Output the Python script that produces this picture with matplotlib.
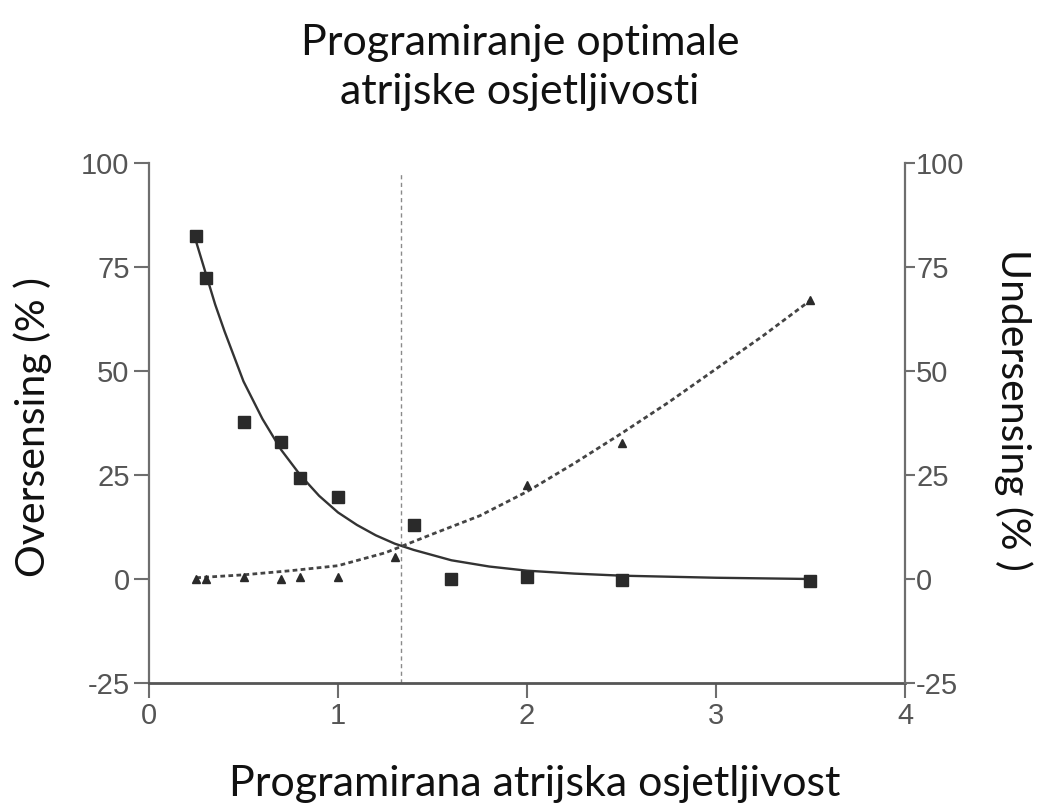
import numpy as np
from matplotlib import pyplot as plt

# measured points
sensitivity_over = [0.25, 0.3, 0.5, 0.7, 0.8, 1.0, 1.4, 1.6, 2.0, 2.5, 3.5]
oversensing = [82.4, 72.3, 37.8, 32.9, 24.2, 19.6, 13.0, 0.0, 0.6, -0.2, -0.6]

sensitivity_under = [0.25, 0.3, 0.5, 0.7, 0.8, 1.0, 1.3, 2.0, 2.5, 3.5]
undersensing = [0.0, 0.0, 0.5, 0.0, 0.5, 0.5, 5.2, 22.6, 32.6, 67.0]

# fitted curves
fit_over_x = [0.25, 0.3, 0.35, 0.4, 0.5, 0.6, 0.7, 0.8, 0.9, 1.0, 1.1, 1.2, 1.3,
              1.4, 1.6, 1.8, 2.0, 2.25, 2.5, 3.0, 3.5]
fit_over_y = [81.0, 73.5, 66.0, 59.5, 47.5, 38.5, 31.0, 25.0, 20.0, 16.0, 13.0, 10.5, 8.5,
              7.0, 4.5, 3.0, 2.0, 1.3, 0.8, 0.3, 0.0]

fit_under_x = [0.25, 0.5, 0.75, 1.0, 1.25, 1.5, 1.75, 2.0, 2.25, 2.5, 2.75, 3.0, 3.25, 3.5]
fit_under_y = [0.3, 1.0, 2.0, 3.2, 6.3, 10.8, 15.2, 21.0, 27.8, 35.0, 42.5, 50.5, 58.5, 67.0]

optimum = 1.335

title_lines = ['Programiranje optimale', 'atrijske osjetljivosti']
xlabel = 'Programirana atrijska osjetljivost'
ylabel_left = 'Oversensing (% )'
ylabel_right = 'Undersensing (% )'

spineColor = '#6e6e6e'
tickColor = '#555555'
markColor = '#2a2a2a'
textColor = '#111111'
labelFont = ['Lato', 'DejaVu Sans']
tickFont = ['Liberation Sans', 'DejaVu Sans']
labelSize = 31
sideLabelSize = 29.5

plt.rcParams['axes.unicode_minus'] = False

W, H = 1038, 808
fig = plt.figure(figsize=(W / 100, H / 100), dpi=100)
ax = fig.add_axes([149 / W, 1 - 683 / H, (905 - 149) / W, (683 - 163) / H])

ax.plot(fit_over_x, fit_over_y, color='#333333', linewidth=1.7, zorder=3)
ax.plot(fit_under_x, fit_under_y, color='#444444', linewidth=2.0,
        linestyle=(0, (1.7, 1.2)), zorder=3)
ax.plot(sensitivity_over, oversensing, linestyle='none', marker='s', markersize=8,
        color=markColor, zorder=4)
ax.plot(sensitivity_under, undersensing, linestyle='none', marker='^', markersize=6,
        color=markColor, zorder=4)
ax.axvline(optimum, ymax=(97.5 + 25) / 125, color='#8a8a8a', linewidth=1.0,
           linestyle=(0, (3, 2.5)), zorder=2)

ax.set_xlim(0, 4)
ax.set_ylim(-25, 100)
ax.set_xticks([0, 1, 2, 3, 4])
ax.set_yticks([-25, 0, 25, 50, 75, 100])
ax.spines['top'].set_visible(False)
ax.spines['right'].set_visible(False)
ax.spines['left'].set_color(spineColor)
ax.spines['left'].set_linewidth(1.6)
ax.spines['bottom'].set_color('#555555')
ax.spines['bottom'].set_linewidth(2.0)
ax.tick_params(axis='both', direction='out', length=11, width=1.5, colors=spineColor,
               labelcolor=tickColor, labelsize=21, pad=3)
for lbl in ax.get_xticklabels() + ax.get_yticklabels():
    lbl.set_family(tickFont)

ax2 = ax.twinx()
ax2.set_ylim(-25, 100)
ax2.set_yticks([-25, 0, 25, 50, 75, 100])
for side in ['top', 'left', 'bottom']:
    ax2.spines[side].set_visible(False)
ax2.spines['right'].set_color(spineColor)
ax2.spines['right'].set_linewidth(1.6)
ax2.tick_params(axis='y', direction='out', length=7, width=1.5, colors=spineColor,
                labelcolor=tickColor, labelsize=21, pad=1)
for lbl in ax2.get_yticklabels():
    lbl.set_family(tickFont)

# axis titles
ax.set_xlabel(xlabel, fontsize=labelSize, family=labelFont, color=textColor)
ax.xaxis.label.set_va('baseline')
ax.xaxis.set_label_coords((535 - 149) / 756, (683 - 796) / 520)

ax.set_ylabel(ylabel_left, fontsize=sideLabelSize, family=labelFont, color=textColor)
ax.yaxis.set_label_coords((52 - 149) / 756, (683 - 427) / 520)

ax2.set_ylabel(ylabel_right, fontsize=sideLabelSize, family=labelFont, color=textColor,
               rotation=270)
ax2.yaxis.label.set_va('bottom')
ax2.yaxis.set_label_coords((994 - 149) / 756, (683 - 410) / 520)

# two-line heading
for line, base in zip(title_lines, [55, 104]):
    fig.text(520 / W, 1 - base / H, line, ha='center', va='baseline', fontsize=labelSize,
             family=labelFont, color=textColor)

plt.savefig('out.png', dpi=100, facecolor='white')
plt.close()
